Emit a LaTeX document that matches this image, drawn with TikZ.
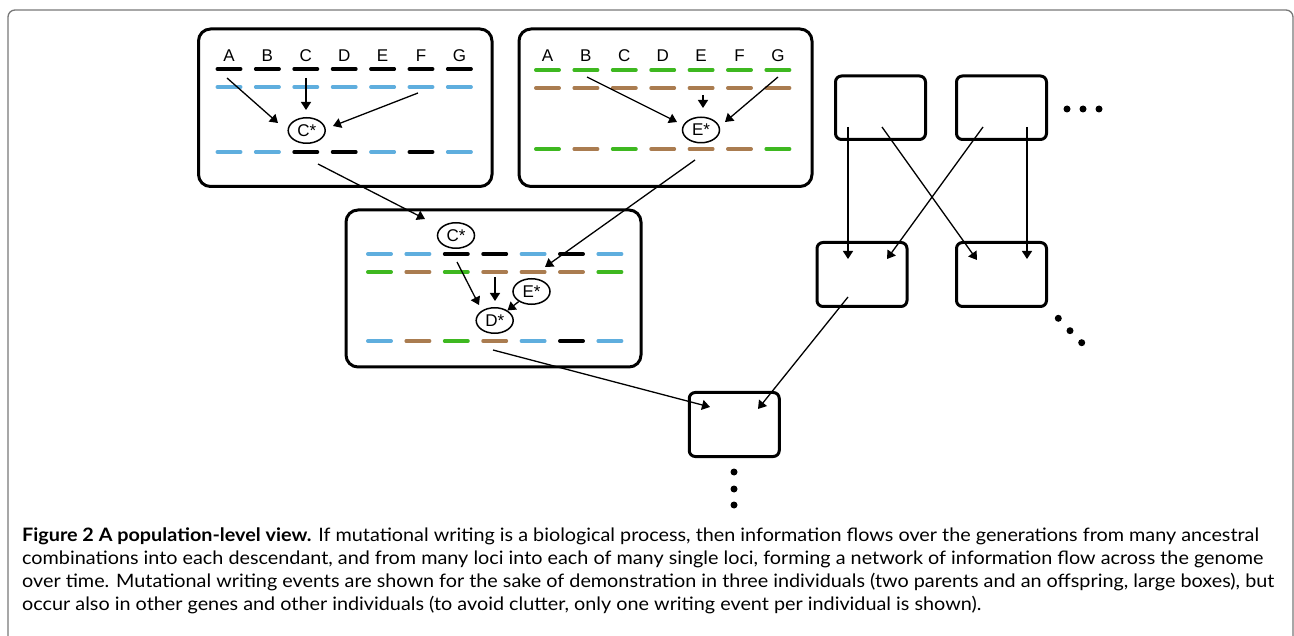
\documentclass[tikz,border=0pt]{standalone}
\usepackage{fontspec}
\setmainfont{Liberation Sans}
\newfontfamily\capfont[FakeStretch=1.07]{Lato}
\usetikzlibrary{arrows.meta,shapes.geometric}
\definecolor{gblue}{RGB}{95,174,222}
\definecolor{ggreen}{RGB}{62,184,32}
\definecolor{gbrown}{RGB}{170,124,80}
\definecolor{framegray}{RGB}{120,120,120}
\tikzset{
  gene/.style={line width=3.5pt,line cap=round},
  arr/.style={-{Triangle[length=8pt,width=10pt]},line width=1.3pt},
  indiv/.style={draw,line width=3pt,rounded corners=12pt,inner sep=0pt,outer sep=0pt},
  small/.style={draw,line width=3pt,rounded corners=6pt,inner sep=0pt,outer sep=0pt,
    minimum width=90pt,minimum height=64pt},
  mut/.style={ellipse,draw,line width=1.5pt,inner sep=0pt,minimum width=37pt,
    minimum height=25.5pt,font=\fontsize{17}{17}\selectfont},
  locus/.style={anchor=base,inner sep=0pt,font=\fontsize{17}{17}\selectfont},
  dot/.style={circle,fill,inner sep=0pt,minimum size=7pt},
  capline/.style={anchor=base west,inner sep=0pt,font=\capfont\fontsize{18.5}{18.5}\selectfont}
}
% one row of seven loci: x of first locus, y, colours
\newcommand{\locirow}[3]{%
  \foreach \col [count=\i] in {#3}
    \draw[gene,\col] ({#1+(\i-1)*38.4-11.7},#2) -- ++(23.4,0);
}
\begin{document}
\begin{tikzpicture}[x=1pt,y=-1pt]
\useasboundingbox (0,0) rectangle (1294,636);
% frame
\draw[framegray,line width=1.3pt,rounded corners=7pt]
  (8,640) -- (8,10) -- (1293,10) -- (1293,640);

% left parent
\node[indiv,minimum width=293.5pt,minimum height=157.5pt] (par1) at (345.25,107.75) {};
\foreach \l [count=\i] in {A,B,C,D,E,F,G}
  \node[locus] (la-\l) at ({229+(\i-1)*38.4},62) {\l};
\locirow{229}{69}{black,black,black,black,black,black,black}
\locirow{229}{87}{gblue,gblue,gblue,gblue,gblue,gblue,gblue}
\locirow{229}{152}{gblue,gblue,black,black,gblue,black,gblue}
\node[mut] (cs1) at (306.7,130.5) {C*};

% right parent
\node[indiv,minimum width=293pt,minimum height=157.5pt] (par2) at (665.5,107.75) {};
\foreach \l [count=\i] in {A,B,C,D,E,F,G}
  \node[locus] (lb-\l) at ({547.5+(\i-1)*38.4},62) {\l};
\locirow{547.5}{70}{ggreen,ggreen,ggreen,ggreen,ggreen,ggreen,ggreen}
\locirow{547.5}{88}{gbrown,gbrown,gbrown,gbrown,gbrown,gbrown,gbrown}
\locirow{547.5}{149}{ggreen,gbrown,ggreen,gbrown,gbrown,gbrown,ggreen}
\node[mut] (es1) at (701,130) {E*};

% offspring
\node[indiv,minimum width=295pt,minimum height=157pt] (kid) at (493.5,288.5) {};
\locirow{379.5}{254}{gblue,gblue,black,black,gblue,black,gblue}
\locirow{379.5}{272}{ggreen,gbrown,ggreen,gbrown,gbrown,gbrown,ggreen}
\locirow{379.5}{341}{gblue,gbrown,ggreen,gbrown,gblue,black,gblue}
\node[mut] (cs2) at (456,235.5) {C*};
\node[mut] (es2) at (531.5,291.5) {E*};
\node[mut] (ds2) at (494.7,320.5) {D*};

% other individuals
\node[small,minimum height=63.5pt] (s1) at (880.5,107.75) {};
\node[small,minimum height=63.5pt] (s2) at (1001.5,107.75) {};
\node[small] (s3) at (862,274.5) {};
\node[small] (s4) at (1001.5,274.5) {};
\node[small] (s5) at (734.25,424.5) {};
\node[dot] (d1) at (1067,109) {};
\node[dot] (d2) at (1083,109) {};
\node[dot] (d3) at (1099,109) {};
\node[dot] (d4) at (1058.3,318.3) {};
\node[dot] (d5) at (1070,330.7) {};
\node[dot] (d6) at (1081.7,342.7) {};
\node[dot] (d7) at (734,472) {};
\node[dot] (d8) at (734,489) {};
\node[dot] (d9) at (734,505) {};

% ends of the arrows
\coordinate (a1) at (227,78);   \coordinate (a1e) at (278,123);
\coordinate (a2) at (306,78);   \coordinate (a2e) at (306,110);
\coordinate (a3) at (418,93);   \coordinate (a3e) at (333,126);
\coordinate (b1) at (587,77);   \coordinate (b1e) at (677,122);
\coordinate (b2) at (703,95);   \coordinate (b2e) at (703,108);
\coordinate (b3) at (778,77);   \coordinate (b3e) at (725,122);
\coordinate (c1) at (318,164);  \coordinate (c1e) at (425,219);
\coordinate (c2) at (695,160);  \coordinate (c2e) at (545,267);
\coordinate (m1) at (457,262);  \coordinate (m1e) at (479,305);
\coordinate (m2) at (495,277);  \coordinate (m2e) at (495,301);
\coordinate (k1) at (493,350);  \coordinate (k1e) at (710,407);
\coordinate (r1) at (848,127);  \coordinate (r1e) at (848,259);
\coordinate (r2) at (882,127);  \coordinate (r2e) at (977,260);
\coordinate (r3) at (983,127);  \coordinate (r3e) at (887,259);
\coordinate (r4) at (1027,127); \coordinate (r4e) at (1027,259);
\coordinate (r5) at (848,297);  \coordinate (r5e) at (758,409);

% writing events
\draw[arr] (a1) -- (a1e);
\draw[arr] (a2) -- (a2e);
\draw[arr] (a3) -- (a3e);
\draw[arr] (b1) -- (b1e);
\draw[arr] (b2) -- (b2e);
\draw[arr] (b3) -- (b3e);
\draw[arr] (m1) -- (m1e);
\draw[arr] (m2) -- (m2e);
\draw[arr] (es2) -- (ds2);
% inheritance
\draw[arr] (c1) -- (c1e);
\draw[arr] (c2) -- (c2e);
\draw[arr] (k1) -- (k1e);
\draw[arr] (r1) -- (r1e);
\draw[arr] (r2) -- (r2e);
\draw[arr] (r3) -- (r3e);
\draw[arr] (r4) -- (r4e);
\draw[arr] (r5) -- (r5e);

% caption
\node[capline] (cap1) at (22,541) {\textbf{Figure 2 A population-level view.} If mutational writing is a biological process, then information flows over the generations from many ancestral};
\node[capline] (cap2) at (22,564) {combinations into each descendant, and from many loci into each of many single loci, forming a network of information flow across the genome};
\node[capline] (cap3) at (22,587) {over time. Mutational writing events are shown for the sake of demonstration in three individuals (two parents and an offspring, large boxes), but};
\node[capline] (cap4) at (22,610) {occur also in other genes and other individuals (to avoid clutter, only one writing event per individual is shown).};
\end{tikzpicture}
\end{document}
